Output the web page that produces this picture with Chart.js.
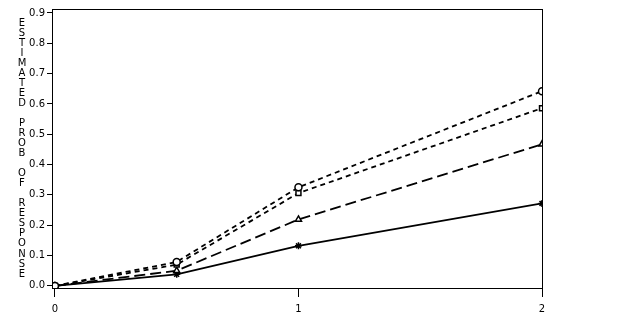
<!DOCTYPE html>
<html>
<head>
<meta charset="utf-8">
<script src="https://cdn.jsdelivr.net/npm/chart.js@4"></script>
<style>
  html, body { margin: 0; padding: 0; background: #fff; }
  #wrap { width: 634px; height: 317px; }
</style>
</head>
<body>
<div id="wrap"><canvas id="grafico"></canvas></div>
<script>
const dosis = [0, 0.5, 1, 2];
const serieCirculo = [0.0, 0.079, 0.325, 0.642];
const serieCuadro = [0.0, 0.07, 0.306, 0.586];
const serieTriangulo = [0.0, 0.05, 0.219, 0.467];
const serieEstrella = [0.0, 0.038, 0.132, 0.272];
const ticksX = [0, 1, 2];
const ticksY = [0, 0.1, 0.2, 0.3, 0.4, 0.5, 0.6, 0.7, 0.8, 0.9];
const tituloY = 'ESTIMATED PROB OF RESPONSE';

const fuente = { family: 'DejaVu Sans', size: 10 };

function puntos(valores) {
    return dosis.map((x, i) => ({ x: x, y: valores[i] }));
}

function serie(valores, estilo, guiones) {
    return {
        data: puntos(valores),
        borderColor: '#000',
        borderWidth: 1.8,
        borderDash: guiones,
        pointStyle: estilo,
        pointRadius: 3.5,
        pointBorderColor: '#000',
        pointBackgroundColor: '#fff',
        pointBorderWidth: 1.5,
        tension: 0
    };
}

// caja alrededor del area y titulo vertical letra por letra
const marco = {
    id: 'marco',
    afterDraw(chart) {
        const { ctx, chartArea } = chart;
        ctx.save();
        ctx.strokeStyle = '#000';
        ctx.lineWidth = 1;
        ctx.strokeRect(chartArea.left + 0.5, chartArea.top + 0.5,
            chartArea.right - chartArea.left, chartArea.bottom - chartArea.top);
        ctx.fillStyle = '#000';
        ctx.font = '10px "DejaVu Sans"';
        ctx.textAlign = 'center';
        ctx.textBaseline = 'middle';
        for (let i = 0; i < tituloY.length; i++) {
            ctx.fillText(tituloY[i], 22, 23 + i * 10.04);
        }
        ctx.restore();
    }
};

new Chart(document.getElementById('grafico'), {
    type: 'line',
    data: {
        datasets: [
            serie(serieCirculo, 'circle', [5, 4]),
            serie(serieCuadro, 'rect', [5, 4]),
            serie(serieTriangulo, 'triangle', [11, 5]),
            serie(serieEstrella, 'star', [])
        ]
    },
    options: {
        responsive: true,
        maintainAspectRatio: false,
        animation: false,
        layout: { padding: { top: 9, right: 92, left: 0, bottom: 0 } },
        plugins: {
            legend: { display: false },
            title: { display: false },
            tooltip: { enabled: false }
        },
        scales: {
            x: {
                type: 'linear',
                min: -0.012,
                max: 2,
                afterBuildTicks: (s) => { s.ticks = ticksX.map(v => ({ value: v })); },
                afterFit: (s) => { s.height = 29; },
                grid: { drawOnChartArea: false, tickLength: 9, color: '#000' },
                border: { color: '#000' },
                ticks: { color: '#000', font: fuente, padding: 6, maxRotation: 0 }
            },
            y: {
                min: -0.007,
                max: 0.913,
                afterBuildTicks: (s) => { s.ticks = ticksY.map(v => ({ value: v })); },
                afterFit: (s) => { s.width = 52; },
                grid: { drawOnChartArea: false, tickLength: 5, color: '#000' },
                border: { color: '#000' },
                ticks: { color: '#000', font: fuente, padding: 2, callback: v => v.toFixed(1) }
            }
        }
    },
    plugins: [marco]
});
</script>
</body>
</html>
